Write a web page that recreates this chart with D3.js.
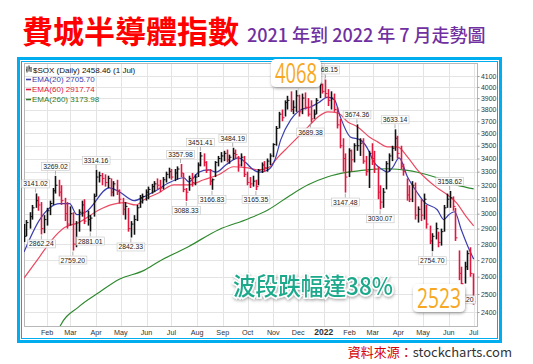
<!DOCTYPE html>
<html>
<head>
<meta charset="utf-8">
<script src="https://cdn.jsdelivr.net/npm/d3@7"></script>
<style>
  body { margin: 0; background: #fff; }
  svg { display: block; }
</style>
</head>
<body>
<div id="chart"></div>
<script>
// ---- data ----
// semi-weekly bars: Monday and Thursday of every week, Jan 4 2021 .. Jun 30 2022
const highs = [2930,2957, 3010,3060, 3141,3120, 3080,2990, 3040,3090, 3180,3269, 3240,3200, 3110,3080,
  3050,3010, 2950,3030, 3090,3100, 3020,2990, 3140,3314, 3300,3290, 3280,3270, 3250,3230, 3240,3170,
  3110,3080, 3040,2950, 2990,3060, 3130,3140, 3170,3190, 3210,3230, 3250,3240, 3260,3300, 3330,3320,
  3320,3340, 3358,3290, 3180,3270, 3290,3280, 3370,3451, 3440,3380, 3320,3250, 3380,3420, 3450,3460,
  3470,3430, 3484,3470, 3420,3440, 3420,3300, 3260,3270, 3240,3320, 3370,3380, 3400,3440, 3520,3660,
  3780,3800, 3880,3920, 3960,3880, 3970,3930, 3940,3950, 3900,3880, 3800,3900, 4040,4030, 4068,3980,
  3960,3940, 3820,3720, 3560,3440, 3480,3470, 3520,3674, 3560,3560, 3420,3460, 3520,3460, 3340,3200,
  3180,3380, 3440,3500, 3633,3580, 3500,3360, 3250,3200, 3230,3220, 3050,3100, 3140,3060, 2920,2870,
  2940,2880, 2900,3060, 3140,3159, 3120,3040, 2760,2660, 2690,2760, 2780,2620];
const lows = [2813,2850, 2900,2960, 3040,3020, 2862,2870, 2920,2990, 3060,3140, 3120,3060, 2950,2900,
  2920,2759, 2780,2880, 2980,2930, 2920,2881, 2980,3120, 3220,3200, 3190,3180, 3120,3120, 3130,3070,
  2990,2960, 2880,2842, 2860,2950, 3040,3070, 3090,3100, 3140,3150, 3170,3150, 3170,3220, 3250,3240,
  3230,3240, 3260,3150, 3088,3160, 3190,3200, 3260,3340, 3340,3290, 3200,3167, 3260,3340, 3370,3380,
  3370,3360, 3390,3400, 3300,3340, 3260,3200, 3180,3190, 3165,3200, 3290,3300, 3300,3350, 3410,3500,
  3640,3700, 3740,3800, 3780,3760, 3780,3740, 3760,3800, 3740,3689, 3720,3760, 3900,3940, 3900,3830,
  3800,3780, 3640,3480, 3300,3147, 3260,3300, 3370,3460, 3420,3360, 3270,3180, 3350,3290, 3100,3030,
  3040,3170, 3300,3380, 3460,3400, 3320,3270, 3090,3080, 3080,2960, 2940,2950, 2960,2900, 2800,2755,
  2830,2780, 2790,2880, 3040,3040, 3020,2820, 2580,2521, 2560,2640, 2600,2440];
const closes = [2850,2940, 2980,3040, 3090,3060, 2900,2960, 3020,3070, 3160,3200, 3150,3090, 3000,2930,
  3000,2800, 2830,3010, 3060,2950, 2960,2970, 3120,3260, 3270,3250, 3220,3250, 3150,3210, 3160,3100,
  3030,3050, 2900,2930, 2960,3040, 3110,3120, 3150,3170, 3190,3210, 3200,3180, 3240,3280, 3300,3260,
  3290,3320, 3290,3170, 3150,3250, 3220,3260, 3350,3420, 3370,3310, 3230,3240, 3370,3400, 3420,3440,
  3390,3410, 3440,3430, 3350,3410, 3280,3220, 3210,3230, 3190,3310, 3350,3330, 3380,3420, 3510,3640,
  3760,3730, 3860,3880, 3800,3820, 3920,3780, 3900,3820, 3760,3720, 3760,3880, 4020,3960, 3940,3880,
  3900,3800, 3670,3500, 3400,3260, 3460,3390, 3500,3500, 3520,3380, 3300,3440, 3400,3320, 3150,3080,
  3150,3360, 3420,3480, 3560,3440, 3340,3300, 3130,3100, 3200,2990, 3030,2990, 3100,2930, 2820,2850,
  2900,2810, 2880,3040, 3100,3110, 3050,2840, 2620,2560, 2660,2740, 2620,2458];

const ema20Dates = ["2021-01-04","2021-01-23","2021-02-16","2021-02-28","2021-03-09","2021-03-20","2021-04-17",
  "2021-04-29","2021-05-17","2021-05-29","2021-06-10","2021-06-28","2021-07-16","2021-07-22","2021-08-03",
  "2021-08-15","2021-08-24","2021-09-05","2021-09-20","2021-09-29","2021-10-08","2021-10-16","2021-10-26",
  "2021-11-03","2021-11-10","2021-11-22","2021-12-04","2021-12-16","2021-12-25","2022-01-06","2022-01-14",
  "2022-01-21","2022-02-02","2022-02-14","2022-02-25","2022-03-01","2022-03-13","2022-03-19","2022-03-25",
  "2022-04-02","2022-04-12","2022-04-24","2022-05-03","2022-05-18","2022-05-26","2022-06-01","2022-06-08",
  "2022-06-16","2022-06-24","2022-07-01"];
const ema20Values = [2750,2960,3069,3069,2993,3013,3181,3153,3090,3118,3153,3218,3255,3225,3296,3314,3296,
  3352,3405,3367,3314,3296,3314,3390,3547,3711,3796,3822,3856,3909,3883,3736,3571,3547,3451,3390,3314,
  3296,3330,3405,3262,3146,3076,3027,2960,2993,3013,2893,2785,2706];

const ema60Dates = ["2021-01-04","2021-01-23","2021-02-07","2021-02-22","2021-03-11","2021-04-05","2021-04-20",
  "2021-05-05","2021-05-19","2021-05-29","2021-06-16","2021-07-04","2021-07-22","2021-08-09","2021-08-27",
  "2021-09-14","2021-09-29","2021-10-14","2021-10-26","2021-11-07","2021-11-19","2021-12-01","2021-12-13",
  "2021-12-25","2022-01-06","2022-01-18","2022-01-30","2022-02-11","2022-02-25","2022-03-07","2022-03-19",
  "2022-03-31","2022-04-12","2022-04-24","2022-05-06","2022-05-18","2022-05-30","2022-06-10","2022-06-22",
  "2022-07-01"];
const ema60Values = [2592,2722,2829,2907,2940,3027,3062,3076,3060,3097,3146,3203,3203,3240,3277,3337,3330,
  3314,3330,3413,3491,3571,3653,3736,3779,3770,3694,3653,3571,3531,3491,3491,3413,3314,3240,3181,3132,
  3076,2980,2918];

const ema260Dates = ["2021-02-10","2021-02-16","2021-03-11","2021-04-05","2021-04-29","2021-05-29","2021-06-16",
  "2021-07-22","2021-08-27","2021-10-02","2021-10-26","2021-11-19","2021-12-13","2022-01-06","2022-01-30",
  "2022-02-23","2022-03-19","2022-04-12","2022-04-24","2022-05-18","2022-06-10","2022-07-01"];
const ema260Values = [2253,2319,2428,2510,2585,2638,2692,2785,2893,2966,3027,3118,3203,3262,3296,3314,3322,
  3310,3296,3255,3203,3174];

// labelled swing highs (h) and lows (l)
const pivotDates = ["2021-01-18","2021-01-25","2021-02-11","2021-03-04","2021-03-25","2021-04-01","2021-05-13",
  "2021-07-12","2021-07-19","2021-08-05","2021-08-19","2021-09-13","2021-10-11","2021-12-16","2022-01-03",
  "2022-01-27","2022-02-10","2022-03-10","2022-03-28","2022-05-12","2022-06-02","2022-06-16"];
const pivotValues = [3141.02,2862.24,3269.02,2759.20,2881.01,3314.16,2842.33,3357.98,3088.33,3451.41,3166.83,
  3484.19,3165.35,3689.38,4068.15,3147.48,3674.36,3030.07,3633.14,2754.70,3158.62,2521.20];
const pivotKinds = ["h","l","h","l","l","h","l","h","l","h","l","h","l","l","h","l","h","l","h","l","h","l"];

const priceTicks = [2400,2500,2600,2700,2800,2900,3000,3100,3200,3300,3400,3500,3600,3700,3800,3900,4000,4100];
const monthDates = ["2021-02-01","2021-03-01","2021-04-01","2021-05-01","2021-06-01","2021-07-01","2021-08-01",
  "2021-09-01","2021-10-01","2021-11-01","2021-12-01","2022-01-01","2022-02-01","2022-03-01","2022-04-01",
  "2022-05-01","2022-06-01","2022-07-01"];
const monthLabels = ["Feb","Mar","Apr","May","Jun","Jul","Aug","Sep","Oct","Nov","Dec","2022","Feb","Mar",
  "Apr","May","Jun","Jul"];

// ---- chart ----
const width = 533, height = 364;
const plot = { left: 24, right: 477, top: 63, bottom: 326 };
const parse = d3.timeParse("%Y-%m-%d");
const labelFont = "'Liberation Sans', Arial, sans-serif";
const cjkFont = "'Noto Sans CJK TC', 'Noto Sans CJK SC', sans-serif";

const svg = d3.select("#chart").append("svg")
  .attr("width", width).attr("height", height);

const defs = svg.append("defs");
defs.append("clipPath").attr("id", "clip").append("rect")
  .attr("x", plot.left).attr("y", plot.top)
  .attr("width", plot.right - plot.left).attr("height", plot.bottom - plot.top);
const shadow = defs.append("filter").attr("id", "shadow")
  .attr("x", "-20%").attr("y", "-30%").attr("width", "150%").attr("height", "170%");
shadow.append("feDropShadow").attr("dx", 0.5).attr("dy", 1.5).attr("stdDeviation", 1.4)
  .attr("flood-color", "#000").attr("flood-opacity", 0.35);

// bar dates: Monday + Thursday of every week
const mondays = d3.timeMonday.range(parse("2021-01-04"), parse("2022-07-01"));
const barDates = d3.merge(mondays.map((m) => [m, d3.timeDay.offset(m, 3)]));
const bars = barDates.map((d, i) => ({ date: d, high: highs[i], low: lows[i], close: closes[i] }));

const x = d3.scaleTime()
  .domain([parse("2021-01-04"), parse("2022-07-05")])
  .range([plot.left, plot.right]);
const y = d3.scaleLog().domain([2325, 4223]).range([plot.bottom, plot.top]);

// Title
svg.append("text").attr("x", 22).attr("y", 43)
  .style("font-family", cjkFont).style("font-weight", 700).style("font-size", "31px")
  .attr("fill", "#ff0000").text("費城半導體指數");
svg.append("text").attr("x", 247).attr("y", 42)
  .style("font-family", cjkFont).style("font-weight", 500).style("font-size", "18px")
  .attr("fill", "#7030a0").text("2021 年到 2022 年 7 月走勢圖");

// Frame
svg.append("rect").attr("x", 18.5).attr("y", 58.5).attr("width", 482).attr("height", 283)
  .attr("fill", "#fff").attr("stroke", "#00aeef").attr("stroke-width", 3);
svg.append("rect").attr("x", 21.5).attr("y", 61.5).attr("width", 476).attr("height", 277)
  .attr("fill", "none").attr("stroke", "#00aeef").attr("stroke-width", 1);

// Grid
const grid = svg.append("g");
grid.selectAll(".hg").data(priceTicks).enter().append("line")
  .attr("x1", plot.left).attr("x2", plot.right)
  .attr("y1", (d) => Math.round(y(d)) + 0.5).attr("y2", (d) => Math.round(y(d)) + 0.5)
  .attr("stroke", "#e4e4e4");
grid.selectAll(".vg").data(monthDates).enter().append("line")
  .attr("x1", (d) => Math.round(x(parse(d))) + 0.5).attr("x2", (d) => Math.round(x(parse(d))) + 0.5)
  .attr("y1", plot.top).attr("y2", plot.bottom)
  .attr("stroke", "#e4e4e4");
svg.append("rect").attr("x", plot.left + 0.5).attr("y", plot.top + 0.5)
  .attr("width", plot.right - plot.left).attr("height", plot.bottom - plot.top)
  .attr("fill", "none").attr("stroke", "#b8b8b8");

// Right axis
const yAxis = d3.axisRight(y).tickValues(priceTicks).tickSize(2).tickPadding(1.5).tickFormat(d3.format("d"));
svg.append("g").attr("transform", `translate(${plot.right + 0.5},0)`).call(yAxis)
  .call((g) => g.select(".domain").remove())
  .call((g) => g.selectAll("line").attr("stroke", "#999"))
  .call((g) => g.selectAll("text").style("font-family", labelFont).style("font-size", "6.9px").attr("fill", "#333"));

// Bottom month labels
svg.append("g").selectAll("text").data(monthDates).enter().append("text")
  .attr("x", (d) => x(parse(d))).attr("y", 335)
  .attr("text-anchor", "middle")
  .style("font-family", labelFont)
  .style("font-weight", (d, i) => (monthLabels[i] === "2022" ? 700 : 400))
  .style("font-size", (d, i) => (monthLabels[i] === "2022" ? "8.5px" : "7.2px"))
  .attr("fill", "#333")
  .text((d, i) => monthLabels[i]);

const body = svg.append("g").attr("clip-path", "url(#clip)");

// EMA lines
const emaLine = d3.line().x((d) => x(d[0])).y((d) => y(d[1])).curve(d3.curveMonotoneX);
[[ema260Dates, ema260Values, "#2f8a2f"], [ema60Dates, ema60Values, "#ea4b63"], [ema20Dates, ema20Values, "#3b3fae"]]
  .forEach(([dates, values, color]) => {
    body.append("path")
      .datum(dates.map((d, i) => [parse(d), values[i]]))
      .attr("fill", "none").attr("stroke", color).attr("stroke-width", 1.2)
      .attr("d", emaLine);
  });

// price bars (HLC)
const barG = body.append("g");
bars.forEach((d, i) => {
  const down = i > 0 && d.close < bars[i - 1].close;
  const color = down ? "#e3173e" : "#111";
  const bx = Math.round(x(d.date)) + 0.5;
  barG.append("line").attr("x1", bx).attr("x2", bx)
    .attr("y1", y(d.high)).attr("y2", y(d.low))
    .attr("stroke", color).attr("stroke-width", 1.6);
  barG.append("line").attr("x1", bx).attr("x2", bx + 2)
    .attr("y1", y(d.close)).attr("y2", y(d.close))
    .attr("stroke", color).attr("stroke-width", 1);
});

// pivot labels
const pivG = svg.append("g");
pivotDates.forEach((ds, i) => {
  const px = x(parse(ds));
  const py = y(pivotValues[i]);
  const high = pivotKinds[i] === "h";
  const ty = high ? py - 7 : py + 12;
  pivG.append("line").attr("x1", px).attr("x2", px)
    .attr("y1", high ? py - 1 : py + 1).attr("y2", high ? py - 5 : py + 5)
    .attr("stroke", "#999").attr("stroke-width", 0.8);
  const t = pivG.append("text").attr("x", px).attr("y", ty).attr("text-anchor", "middle")
    .style("font-family", labelFont).style("font-size", "6.8px").attr("fill", "#222")
    .text(pivotValues[i].toFixed(2));
  const bb = t.node().getBBox();
  pivG.insert("rect", () => t.node())
    .attr("x", bb.x - 1.5).attr("y", bb.y - 0.5).attr("width", bb.width + 3).attr("height", bb.height + 1)
    .attr("fill", "#fff").attr("fill-opacity", 0.9).attr("stroke", "#c4c4c4").attr("stroke-width", 0.6);
});

// legend
const leg = svg.append("g").style("font-family", labelFont).style("font-size", "8px");
leg.append("path").attr("d", "M27,66.5v6M29,65.5v6M31,67v5M26,70h1M29,68h1")
  .attr("stroke", "#222").attr("stroke-width", 1).attr("fill", "none");
leg.append("text").attr("x", 33).attr("y", 72.5).attr("fill", "#111").text("$SOX (Daily) 2458.46 (1 Jul)");
[["EMA(20) 2705.70", "#3b3fae"], ["EMA(60) 2917.74", "#e3173e"], ["EMA(260) 3173.98", "#2f7a2f"]]
  .forEach(([txt, color], i) => {
    const ly = 82 + i * 10;
    leg.append("line").attr("x1", 26).attr("x2", 31).attr("y1", ly - 2.5).attr("y2", ly - 2.5)
      .attr("stroke", color).attr("stroke-width", 1.6);
    leg.append("text").attr("x", 32).attr("y", ly).attr("fill", color).text(txt);
  });

// stickers
function sticker(cx, cy, w, h, txt, size) {
  svg.append("rect").attr("x", cx - w / 2).attr("y", cy - h / 2).attr("width", w).attr("height", h)
    .attr("rx", 5).attr("fill", "#fff").attr("filter", "url(#shadow)");
  svg.append("text").attr("x", cx).attr("y", cy + size * 0.36).attr("text-anchor", "middle")
    .attr("textLength", w - 8).attr("lengthAdjust", "spacingAndGlyphs")
    .style("font-family", "'Open Sans', 'Noto Sans', sans-serif").style("font-size", size + "px")
    .attr("fill", "#f7a823").text(txt);
}
sticker(296, 73, 50, 28, "4068", 27);
sticker(439, 298, 52, 28, "2523", 27);

svg.append("text").attr("x", 233).attr("y", 295)
  .attr("textLength", 160).attr("lengthAdjust", "spacingAndGlyphs")
  .style("font-family", cjkFont).style("font-weight", 500).style("font-size", "24px")
  .attr("fill", "#1fa98b").attr("stroke", "#fff").attr("stroke-width", 3)
  .style("paint-order", "stroke").attr("filter", "url(#shadow)")
  .text("波段跌幅達38%");

// source
const src = svg.append("text").attr("x", 512).attr("y", 357).attr("text-anchor", "end")
  .style("font-family", cjkFont).style("font-size", "13px");
src.append("tspan").attr("fill", "#d40000").text("資料來源：");
src.append("tspan").attr("fill", "#333").text("stockcharts.com");
</script>
</body>
</html>
